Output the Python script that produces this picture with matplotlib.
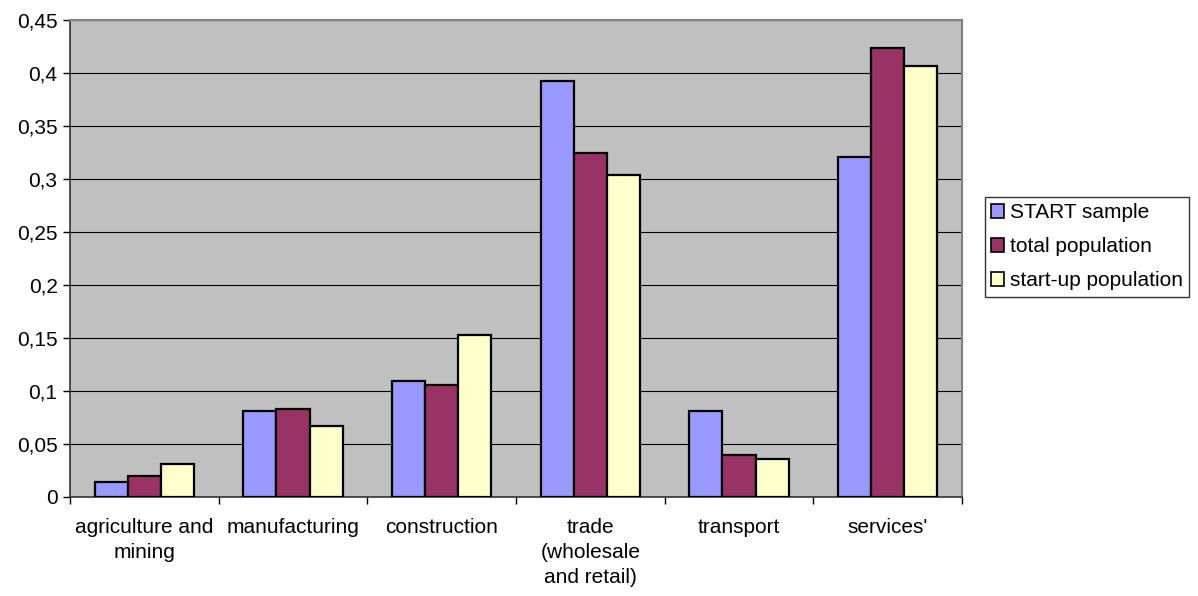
"""
Sector shares: START sample vs total and start-up population (Excel-style grouped bars).
"""
import numpy as np
import matplotlib.pyplot as plt
from matplotlib.ticker import FixedLocator, FuncFormatter, NullFormatter

# ── Data ──────────────────────────────────────────────────────────────────────
categories = ["agriculture and\nmining", "manufacturing", "construction",
              "trade\n(wholesale\nand retail)", "transport", "services'"]
series_names = ["START sample", "total population", "start-up population"]
start_sample = [0.014, 0.081, 0.109, 0.392, 0.081, 0.321]
total_pop    = [0.020, 0.083, 0.106, 0.325, 0.040, 0.424]
startup_pop  = [0.031, 0.067, 0.153, 0.304, 0.036, 0.407]
y_ticks = [0, 0.05, 0.1, 0.15, 0.2, 0.25, 0.3, 0.35, 0.4, 0.45]

colors = ["#9999FF", "#993366", "#FFFFCC"]
FS = 15

plt.rcParams["font.family"] = ["Liberation Sans", "DejaVu Sans"]

fig = plt.figure(figsize=(11.98, 5.96), dpi=100)
W, H = 1198, 596
ax = fig.add_axes([70 / W, (H - 497) / H, 892 / W, 477 / H])
ax.set_facecolor("#C0C0C0")

n_cat = len(categories)
x = np.arange(n_cat)
bar_w = 1 / 4.5
for i, vals in enumerate([start_sample, total_pop, startup_pop]):
    ax.bar(x + (i - 1) * bar_w, vals, width=bar_w, color=colors[i],
           edgecolor="black", linewidth=1.6, label=series_names[i], zorder=3)

ax.set_xlim(-0.5, n_cat - 0.5)
ax.set_ylim(0, 0.45)

# y axis
ax.yaxis.set_major_locator(FixedLocator(y_ticks))
ax.yaxis.set_major_formatter(FuncFormatter(lambda v, p: f"{v:g}".replace(".", ",")))
ax.grid(axis="y", color="black", linewidth=0.8, zorder=1)
ax.tick_params(axis="y", direction="out", length=5, width=1, labelsize=FS, pad=4)

# x axis: tick marks between categories, labels centered
ax.xaxis.set_major_locator(FixedLocator(np.arange(n_cat + 1) - 0.5))
ax.xaxis.set_major_formatter(NullFormatter())
ax.xaxis.set_minor_locator(FixedLocator(x))
ax.set_xticklabels(categories, minor=True, fontsize=FS, linespacing=1.42, va="top")
ax.tick_params(axis="x", which="major", direction="out", length=5, width=1)
ax.tick_params(axis="x", which="minor", length=0, pad=15)

for side in ["top", "right"]:
    ax.spines[side].set_color("#808080")
    ax.spines[side].set_linewidth(1.5)
for side in ["left", "bottom"]:
    ax.spines[side].set_color("#333333")
    ax.spines[side].set_linewidth(1.2)

leg = ax.legend(loc="upper left", bbox_to_anchor=(985 / W, (H - 197) / H),
                bbox_transform=fig.transFigure, frameon=True, fancybox=False,
                fontsize=FS, handlelength=0.6, handleheight=0.6, handletextpad=0.3,
                labelspacing=0.72, borderpad=0.3, borderaxespad=0)
leg.get_frame().set_edgecolor("black")
leg.get_frame().set_linewidth(1)
for h in leg.legend_handles:
    h.set_linewidth(1.2)

fig.savefig("out.png", dpi=100)
